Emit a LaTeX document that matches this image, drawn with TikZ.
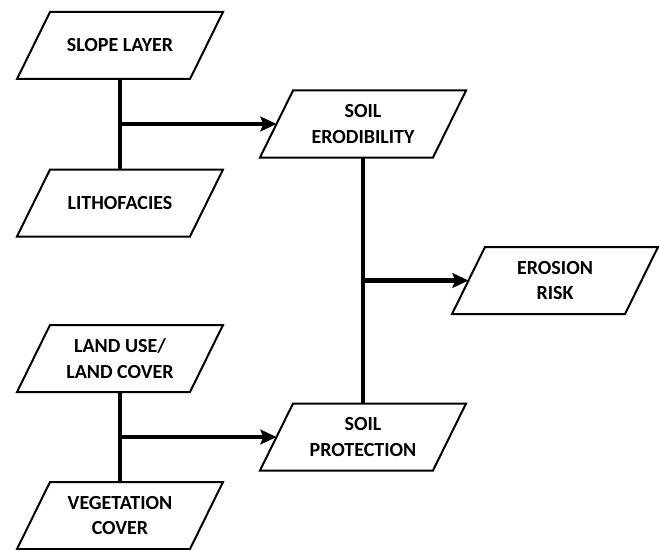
\documentclass[tikz,border=0pt]{standalone}
\usepackage{fontspec}
\setmainfont{Carlito}
\usetikzlibrary{arrows.meta}

\begin{document}
\begin{tikzpicture}[x=0.75pt, y=-0.75pt,
  layer/.style={minimum width=129.75pt, minimum height=50.25pt, inner sep=0pt, outer sep=0pt,
    align=center, font=\fontsize{15}{19}\selectfont\bfseries},
  box/.style={draw, line width=1.5pt, line join=miter},
  link/.style={line width=3.3pt},
  feed/.style={line width=3.3pt, -{Stealth[length=12pt, width=11pt, inset=2pt]}}]
  \useasboundingbox (0,0) rectangle (659,549);
  % input layers
  \node[layer] (slope) at (120,45.5)  {SLOPE LAYER};
  \node[layer] (litho) at (120,203)   {LITHOFACIES};
  \node[layer] (land)  at (120,358.5) {LAND USE/\\LAND COVER};
  \node[layer] (veg)   at (120,515.5) {VEGETATION\\COVER};
  % derived layers
  \node[layer] (erod)  at (363,124)   {SOIL\\ERODIBILITY};
  \node[layer] (prot)  at (363,437)   {SOIL\\PROTECTION};
  \node[layer] (risk)  at (555,280.5) {EROSION\\RISK};
  % parallelogram outlines
  \foreach \n in {slope,litho,land,veg,erod,prot,risk}
    \draw[box] ([xshift=12.375pt]\n.north west) -- ([xshift=12.375pt]\n.north east)
      -- ([xshift=-12.375pt]\n.south east) -- ([xshift=-12.375pt]\n.south west) -- cycle;

  \draw[link] (slope) -- (litho);
  \draw[feed] (slope |- erod) -- (erod.west);
  \draw[link] (land) -- (veg);
  \draw[feed] (land |- prot) -- (prot.west);
  \draw[link] (erod) -- (prot);
  \draw[feed] (erod |- risk) -- (risk.west);
\end{tikzpicture}
\end{document}
